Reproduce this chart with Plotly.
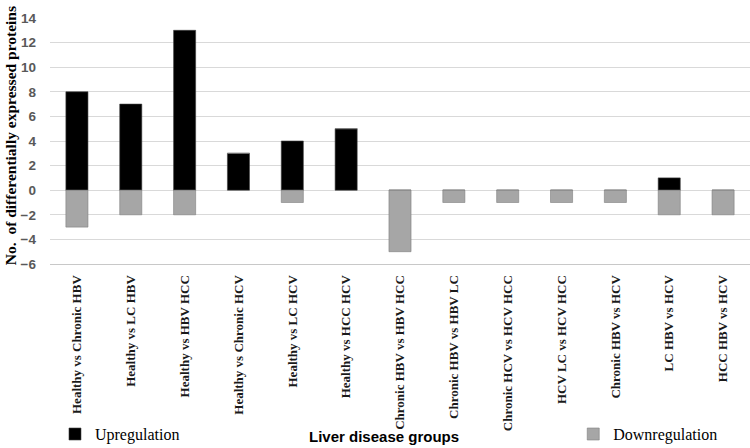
import plotly.graph_objects as go

categories = ["Healthy vs Chronic HBV", "Healthy vs LC HBV", "Healthy vs HBV HCC",
              "Healthy vs Chronic HCV", "Healthy vs LC HCV", "Healthy vs HCC HCV",
              "Chronic HBV vs HBV HCC", "Chronic HBV vs HBV LC", "Chronic HCV vs HCV HCC",
              "HCV LC vs HCV HCC", "Chronic HBV vs HCV", "LC HBV vs HCV", "HCC HBV vs HCV"]
upregulation = [8, 7, 13, 3, 4, 5, 0, 0, 0, 0, 0, 1, 0]
downregulation = [-3, -2, -2, 0, -1, 0, -5, -1, -1, -1, -1, -2, -2]
y_ticks = [-6, -4, -2, 0, 2, 4, 6, 8, 10, 12, 14]
x_title = "Liver disease groups"
y_title = "No.  of differentially expressed proteins"

fig = go.Figure()
fig.add_trace(go.Bar(x=categories, y=upregulation, name="Upregulation",
                     marker=dict(color="#000000", line=dict(width=0.6, color="#404040")),
                     legend="legend"))
fig.add_trace(go.Bar(x=categories, y=downregulation, name="Downregulation",
                     marker=dict(color="#a6a6a6", line=dict(width=0.6, color="#7f7f7f")),
                     legend="legend2"))

fig.update_layout(
    width=750, height=448,
    barmode="relative", bargap=0.59,
    plot_bgcolor="white", paper_bgcolor="white",
    margin=dict(l=50, r=0, t=18, b=184, autoexpand=False),
    showlegend=True,
    legend=dict(xref="container", yref="container", x=0.0733, y=0.031,
                xanchor="left", yanchor="middle", orientation="h",
                font=dict(family="Liberation Serif", size=16, color="#000000"),
                bgcolor="rgba(0,0,0,0)"),
    legend2=dict(xref="container", yref="container", x=0.7643, y=0.031,
                 xanchor="left", yanchor="middle", orientation="h",
                 font=dict(family="Liberation Serif", size=16, color="#000000"),
                 bgcolor="rgba(0,0,0,0)"),
    xaxis=dict(tickangle=-90, automargin=False, ticklabelstandoff=5,
               tickfont=dict(family="Liberation Serif", size=13, color="#1a1a1a", weight="bold"),
               showline=True, linecolor="#c8c8c8", linewidth=1, showgrid=False, ticks=""),
    yaxis=dict(range=[-6, 14], tickvals=y_ticks, showgrid=True, gridcolor="#d9d9d9", gridwidth=1,
               zeroline=False, ticks="", ticklabelstandoff=13, automargin=False,
               tickfont=dict(family="Liberation Sans", size=13.5, color="#595959", weight="bold")),
    annotations=[
        dict(text=x_title, xref="paper", yref="paper", x=0.477, y=-0.703,
             xanchor="center", yanchor="middle", showarrow=False,
             font=dict(family="Liberation Sans", size=15, color="#000000", weight="bold")),
        dict(text=y_title, xref="paper", yref="paper", x=-0.057, y=0.52, textangle=-90,
             xanchor="center", yanchor="middle", showarrow=False,
             font=dict(family="Liberation Serif", size=15.5, color="#000000", weight="bold")),
    ],
)
fig.write_html("out.html", config={"displayModeBar": False},
               post_script="document.body.style.margin='0px';")
